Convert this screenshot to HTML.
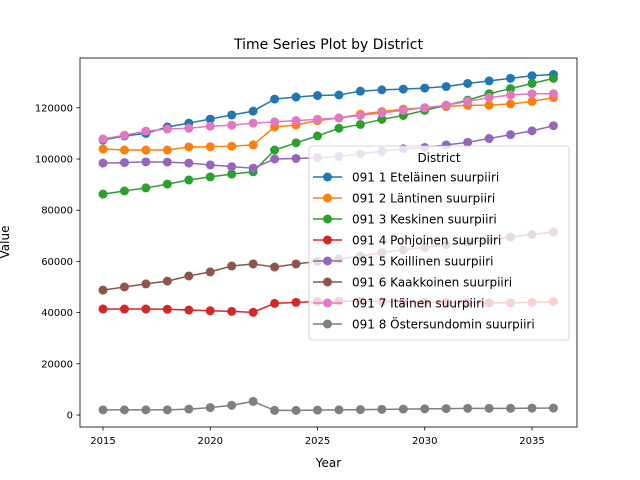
<!DOCTYPE html>
<html><head><meta charset="utf-8"><style>body{margin:0;background:#fff}svg{display:block;font-family:"DejaVu Sans","Liberation Sans",sans-serif}</style></head>
<body>
<svg id="chart" width="640" height="480" xmlns="http://www.w3.org/2000/svg">
<rect x="0" y="0" width="640" height="480" fill="#fff"/>
<text x="328.5" y="49" text-anchor="middle" font-size="14">Time Series Plot by District</text>
<text x="328.5" y="467" text-anchor="middle" font-size="12">Year</text>
<text x="0" y="0" transform="translate(9,242) rotate(-90)" text-anchor="middle" font-size="12">Value</text>
<g id="grid"></g><g id="series"></g>
<rect x="80" y="58" width="497" height="369" fill="none" stroke="#000" stroke-width="0.8"/>
<g id="legend"></g>
</svg>
<script>
const years=[2015,2016,2017,2018,2019,2020,2021,2022,2023,2024,2025,2026,2027,2028,2029,2030,2031,2032,2033,2034,2035,2036];
const names=["091 1 Eteläinen suurpiiri","091 2 Läntinen suurpiiri","091 3 Keskinen suurpiiri","091 4 Pohjoinen suurpiiri","091 5 Koillinen suurpiiri","091 6 Kaakkoinen suurpiiri","091 7 Itäinen suurpiiri","091 8 Östersundomin suurpiiri"];
const colors=["#1f77b4","#ff7f0e","#2ca02c","#d62728","#9467bd","#8c564b","#e377c2","#7f7f7f"];
const s1=[107400,109000,110000,112500,114000,115600,117200,118700,123400,124200,124800,125000,126500,127000,127300,127700,128300,129500,130500,131500,132500,133000];
const s2=[103900,103500,103500,103500,104700,104800,105000,105500,112500,113300,115000,116000,117500,118500,119500,120000,120500,121000,121000,121500,122500,124000];
const s3=[86300,87500,88700,90200,91800,93000,94100,95000,103500,106300,109000,112000,113500,115500,117000,119000,121000,123000,125500,127500,129500,131500];
const s4=[41400,41400,41400,41300,41000,40700,40500,40100,43600,44000,44300,44500,44500,44300,44200,44000,43900,43900,43800,43800,44000,44300];
const s5=[98400,98600,98900,98800,98400,97700,97000,96400,100000,100200,100500,101000,102000,103000,104000,104500,105500,106500,108000,109500,111000,113000];
const s6=[48800,50000,51200,52300,54300,55900,58200,59000,57800,59000,60000,61000,62000,63500,64500,65500,66500,67500,68500,69500,70500,71500];
const s7=[107800,109300,110900,111700,112000,112800,113200,114000,114500,115000,115500,116000,117000,118000,119000,120000,121000,122500,124000,125000,125500,125500];
const s8=[2000,2000,2000,2000,2300,2900,3800,5300,1800,1800,1900,2000,2100,2200,2300,2400,2500,2600,2600,2600,2700,2700];
const xTicks=[2015,2020,2025,2030,2035];
const yTicks=[0,20000,40000,60000,80000,100000,120000];
const series=[s1,s2,s3,s4,s5,s6,s7,s8];
const NS="http://www.w3.org/2000/svg";
const X=v=>103+(v-2015)*21.45;
const Y=v=>415-v/20000*51.2;
function mk(t,a,p){const e=document.createElementNS(NS,t);for(const k in a)e.setAttribute(k,a[k]);p.appendChild(e);return e;}
const g=document.getElementById('grid');
xTicks.forEach(t=>{const l=mk('line',{x1:X(t),x2:X(t),y1:427,y2:430.5,stroke:'#000','stroke-width':0.8},g);


const tx=mk('text',{x:X(t),y:444,'text-anchor':'middle','font-size':10},g);tx.textContent=t;

});
yTicks.forEach(t=>{const l=mk('line',{x1:76.5,x2:80,y1:Y(t),y2:Y(t),stroke:'#000','stroke-width':0.8},g);


const tx=mk('text',{x:73,y:Y(t)+3.5,'text-anchor':'end','font-size':10},g);tx.textContent=t;

});
const sg=document.getElementById('series');
series.forEach((s,i)=>{const grp=mk('g',{},sg);


mk('polyline',{points:s.map((v,j)=>X(years[j])+','+Y(v)).join(' '),fill:'none',stroke:colors[i],'stroke-width':1.5},grp);
s.forEach((v,j)=>{const c=mk('circle',{cx:X(years[j]),cy:Y(v),r:4.5,fill:colors[i]},grp);

});});
const lg=document.getElementById('legend');


mk('rect',{x:309,y:146,width:260,height:194,rx:3,fill:'#fff','fill-opacity':0.8,stroke:'#ccc','stroke-width':0.8},lg);
const lt=mk('text',{x:439,y:162,'text-anchor':'middle','font-size':12},lg);lt.textContent='District';
names.forEach((n,i)=>{const y=177+i*21;const e=mk('g',{},lg);


mk('line',{x1:313,x2:342,y1:y,y2:y,stroke:colors[i],'stroke-width':1.5},e);
mk('circle',{cx:327.5,cy:y,r:4.5,fill:colors[i]},e);
const t=mk('text',{x:352,y:y+4.5,'font-size':12},e);t.textContent=n;});
</script>
</body></html>
